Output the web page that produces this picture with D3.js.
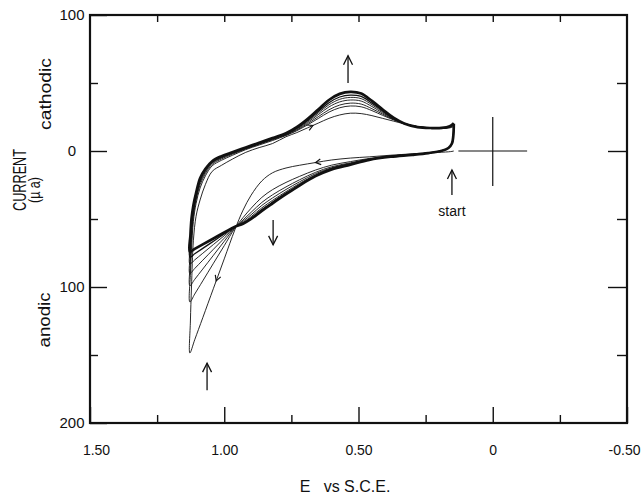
<!DOCTYPE html>
<html><head><meta charset="utf-8">
<script src="https://cdn.jsdelivr.net/npm/d3@7"></script>
<style>
body{margin:0;background:#fff}
text{font-family:"Liberation Sans",Arial,sans-serif;fill:#111}
</style>
</head><body>
<svg id="chart" width="641" height="497"></svg>
<script>
// ---------------- DATA ----------------
// potentials (V vs S.C.E.) of the anodic (lower) branch, swept from 0.15 V toward 1.13 V
const anodicE = [0.145, 0.147, 0.152, 0.165, 0.19, 0.24, 0.30, 0.38, 0.46, 0.53, 0.60, 0.66, 0.72, 0.77, 0.82, 0.86, 0.90, 0.93, 0.96, 1.00, 1.04, 1.08, 1.11, 1.128];
// potentials of the cathodic (upper) branch, swept back from 1.13 V to 0.15 V
const cathodicE = [1.128, 1.126, 1.122, 1.115, 1.105, 1.09, 1.07, 1.045, 1.01, 0.97, 0.92, 0.87, 0.82, 0.77, 0.73, 0.69, 0.65, 0.61, 0.57, 0.53, 0.49, 0.45, 0.41, 0.37, 0.33, 0.28, 0.23, 0.19, 0.16, 0.145];

// current (µA, cathodic positive) for successive cycles, first to last
const anodicCycle1 = [0, -0.1, -0.3, -0.6, -0.9, -1.4, -2.1, -3.1, -4.3, -5.2, -6.6, -8.5, -10.5, -12.5, -16, -22, -32.5, -43.5, -57.7, -79.3, -100.9, -122.6, -138.8, -148.5];
const anodicCycle2 = [18, 11, 5.5, 2.2, 0.2, -1.5, -2.4, -3.6, -5.5, -7.8, -10.4, -14, -18.7, -23.1, -28.4, -34.1, -42.1, -49, -56.6, -69.6, -82.5, -95.5, -105.2, -111];
const anodicCycle3 = [18.9, 11, 5.5, 2.2, 0.2, -1.5, -2.5, -3.8, -5.9, -8.7, -11.6, -15.7, -21.2, -26.4, -32.2, -37.8, -45.1, -50.7, -56.3, -66.4, -76.6, -86.8, -94.4, -99];
const anodicCycle4 = [19.2, 11, 5.5, 2.2, 0.2, -1.5, -2.6, -3.9, -6.1, -9.1, -12.3, -16.7, -22.7, -28.3, -34.5, -40, -46.9, -51.7, -56, -64.1, -72.2, -80.3, -86.4, -90];
const anodicCycle5 = [19.6, 11, 5.5, 2.2, 0.2, -1.5, -2.7, -4.0, -6.3, -9.5, -12.8, -17.5, -23.9, -29.9, -36.3, -41.8, -48.3, -52.5, -55.8, -62.3, -68.7, -75.2, -80.1, -83];
const anodicCycle6 = [19.9, 11, 5.5, 2.2, 0.2, -1.5, -2.7, -4.1, -6.4, -9.8, -13.2, -18.1, -24.8, -31, -37.6, -43.1, -49.3, -53.1, -55.7, -61, -66.3, -71.6, -75.6, -78];
const anodicCycle7 = [20.1, 11, 5.5, 2.2, 0.2, -1.5, -2.8, -4.2, -6.5, -10, -13.5, -18.5, -25.4, -31.8, -38.5, -44, -50, -53.5, -55.6, -59.9, -64.3, -68.7, -72, -74];

const cathodicCycle1 = [-148.5, -125, -100, -66, -48, -36, -24.5, -15, -10.5, -6, -1, 2.5, 5.5, 10.5, 13.5, 17, 20.5, 24, 26.5, 27.8, 27.5, 26, 24, 22, 20, 18, 17, 16.5, 17, 18];
const cathodicCycle2 = [-111, -90.4, -72.5, -51.7, -38.7, -27.2, -18.2, -10.9, -6.8, -3.2, 1, 4.4, 7.7, 11.4, 14.9, 19.2, 23.9, 28.6, 31.8, 33.1, 32.5, 29.7, 26.2, 22.9, 20.1, 17.9, 17, 16.7, 17.4, 18.9];
const cathodicCycle3 = [-99, -80.9, -65, -47.8, -36.1, -24.8, -16.5, -9.8, -5.8, -2.4, 1.5, 5, 8.3, 11.7, 15.4, 20.1, 25.2, 30.3, 33.8, 35.2, 34.5, 31.1, 27.1, 23.2, 20.1, 17.8, 17, 16.7, 17.6, 19.2];
const cathodicCycle4 = [-90, -74.6, -60, -45.2, -34.4, -23.2, -15.3, -9, -5.1, -1.9, 1.9, 5.3, 8.7, 12.1, 16, 21, 26.7, 32.4, 36.1, 37.5, 36.7, 32.7, 28, 23.6, 20.2, 17.8, 16.9, 16.8, 17.8, 19.6];
const cathodicCycle5 = [-83, -69.6, -56, -43.1, -33, -21.9, -14.4, -8.4, -4.6, -1.5, 2.2, 5.6, 9, 12.4, 16.5, 21.8, 27.9, 34, 38, 39.4, 38.5, 34, 28.8, 23.9, 20.2, 17.7, 16.9, 16.9, 18, 19.9];
const cathodicCycle6 = [-78, -65.2, -52.5, -41.3, -31.9, -20.8, -13.6, -7.9, -4.1, -1.2, 2.4, 5.8, 9.3, 12.6, 16.9, 22.5, 29, 35.5, 39.7, 41.1, 40.1, 35.2, 29.5, 24.1, 20.3, 17.7, 16.9, 16.9, 18.1, 20.1];
const cathodicCycle7 = [-74, -62, -50, -40, -31, -20, -13, -7.5, -3.8, -0.9, 2.6, 6, 9.5, 13, 17.5, 23.5, 30.5, 37.5, 42, 43.5, 42.3, 36.8, 30.5, 24.5, 20.3, 17.6, 16.9, 17, 18.3, 20.5];

// axis ticks
const xMajorTicks = [1.5, 1.0, 0.5, 0, -0.5];
const xTickLabels = ["1.50", "1.00", "0.50", "0", "-0.50"];
const xMinorTicks = [1.25, 0.75, 0.25, -0.25];
const yMajorTicks = [100, 0, -100, -200];
const yTickLabels = ["100", "0", "100", "200"];
const yMinorTicks = [50, -50, -150];

// ---------------- CHART ----------------
const anodicSeries = [anodicCycle1, anodicCycle2, anodicCycle3, anodicCycle4, anodicCycle5, anodicCycle6, anodicCycle7];
const cathodicSeries = [cathodicCycle1, cathodicCycle2, cathodicCycle3, cathodicCycle4, cathodicCycle5, cathodicCycle6, cathodicCycle7];

const L = 90, R = 627, T = 15, B = 423;
const svg = d3.select("#chart");
const x = d3.scaleLinear().domain([1.5, -0.5]).range([L, R]);
const y = d3.scaleLinear().domain([100, -200]).range([T, B]);
const ink = "#111";
const FONT = '"Liberation Sans", Arial, sans-serif';

// frame
svg.append("rect").attr("x", L).attr("y", T).attr("width", R - L).attr("height", B - T)
  .attr("fill", "none").attr("stroke", ink).attr("stroke-width", 2.2);

function styleAxis(g) {
  g.select(".domain").remove();
  g.selectAll("line").attr("stroke", ink).attr("stroke-width", 1.4);
}
// bottom axis
svg.append("g").attr("transform", `translate(0,${B})`)
  .call(d3.axisBottom(x).tickValues(xMajorTicks).tickSizeInner(-16).tickSizeOuter(0).tickPadding(22)
    .tickFormat((d, i) => xTickLabels[i]))
  .call(styleAxis)
  .call(g => g.selectAll("text").attr("font-size", 14).attr("fill", ink).attr("font-family", FONT)
    .attr("text-anchor", (d, i) => i === xMajorTicks.length - 1 ? "end" : "middle")
    .attr("dx", (d, i) => i === 0 ? 6 : (i === xMajorTicks.length - 1 ? 13 : 0)));
svg.append("g").attr("transform", `translate(0,${B})`)
  .call(d3.axisBottom(x).tickValues(xMinorTicks).tickSizeInner(-8).tickSizeOuter(0).tickFormat(""))
  .call(styleAxis);
// top axis (ticks only)
svg.append("g").attr("transform", `translate(0,${T})`)
  .call(d3.axisTop(x).tickValues(xMinorTicks.concat(xMajorTicks.slice(1, 4))).tickSizeInner(-7).tickSizeOuter(0).tickFormat(""))
  .call(styleAxis);
// left axis
svg.append("g").attr("transform", `translate(${L},0)`)
  .call(d3.axisLeft(y).tickValues(yMajorTicks).tickSizeInner(-17).tickSizeOuter(0).tickPadding(18)
    .tickFormat((d, i) => yTickLabels[i]))
  .call(styleAxis)
  .call(g => g.selectAll("text").attr("font-size", 15).attr("fill", ink).attr("text-anchor", "middle")
    .attr("font-family", FONT));
svg.append("g").attr("transform", `translate(${L},0)`)
  .call(d3.axisLeft(y).tickValues(yMinorTicks).tickSizeInner(-8).tickSizeOuter(0).tickFormat(""))
  .call(styleAxis);
// right axis (ticks only)
svg.append("g").attr("transform", `translate(${R},0)`)
  .call(d3.axisRight(y).tickValues(yMajorTicks.slice(1, 3)).tickSizeInner(-19).tickSizeOuter(0).tickFormat(""))
  .call(styleAxis);
svg.append("g").attr("transform", `translate(${R},0)`)
  .call(d3.axisRight(y).tickValues(yMinorTicks).tickSizeInner(-10).tickSizeOuter(0).tickFormat(""))
  .call(styleAxis);

// curves
const line = d3.line().x(d => x(d[0])).y(d => y(d[1])).curve(d3.curveCatmullRom.alpha(0.5));
const cycles = anodicSeries.map((a, k) =>
  anodicE.map((e, i) => [e, a[i]]).concat(cathodicE.slice(1).map((e, i) => [e, cathodicSeries[k][i + 1]])));
const nC = cycles.length;
svg.append("g").selectAll("path").data(cycles).join("path")
  .attr("d", line).attr("fill", "none").attr("stroke", ink)
  .attr("stroke-linejoin", "round")
  .attr("stroke-width", (d, k) => k === nC - 1 ? 2.7 : (k === nC - 2 ? 1.3 : 0.9));

// small direction chevrons on first cycle
function chevron(E0, I0, E1, I1) {
  const x0 = x(E0), y0 = y(I0), x1 = x(E1), y1 = y(I1);
  const ang = Math.atan2(y1 - y0, x1 - x0);
  const cx = (x0 + x1) / 2, cy = (y0 + y1) / 2, len = 6, sp = 0.5;
  const p = [[cx - len * Math.cos(ang - sp), cy - len * Math.sin(ang - sp)], [cx, cy],
             [cx - len * Math.cos(ang + sp), cy - len * Math.sin(ang + sp)]];
  svg.append("path").attr("d", d3.line()(p)).attr("fill", "none").attr("stroke", ink).attr("stroke-width", 1.2);
}
chevron(0.69, 17, 0.65, 20.5);
chevron(0.60, -6.6, 0.72, -10.5);
chevron(1.00, -79.3, 1.06, -111.7);

// annotation arrows (tail current -> tip current at fixed potential)
function vArrow(E, Itail, Itip) {
  const xx = x(E), y0 = y(Itail), y1 = y(Itip);
  const dir = Math.sign(y1 - y0);
  svg.append("line").attr("x1", xx).attr("x2", xx).attr("y1", y0).attr("y2", y1)
    .attr("stroke", ink).attr("stroke-width", 1.3);
  svg.append("path").attr("d", d3.line()([[xx - 4.5, y1 - dir * 9], [xx, y1], [xx + 4.5, y1 - dir * 9]]))
    .attr("fill", "none").attr("stroke", ink).attr("stroke-width", 1.3);
}
vArrow(0.539, 50, 70);
vArrow(0.818, -50.7, -69);
vArrow(1.064, -176, -156);
vArrow(0.152, -32.4, -14);

// origin cross-hair
svg.append("line").attr("x1", x(0.128)).attr("x2", x(-0.128)).attr("y1", y(0)).attr("y2", y(0))
  .attr("stroke", ink).attr("stroke-width", 1.2);
svg.append("line").attr("x1", x(0)).attr("x2", x(0)).attr("y1", y(25)).attr("y2", y(-25.7))
  .attr("stroke", ink).attr("stroke-width", 1.2);

// texts
svg.append("text").attr("x", x(0.152)).attr("y", 216).attr("text-anchor", "middle")
  .attr("font-size", 14).text("start");

function vText(txt, cx, cy, size, len) {
  const t = svg.append("text").attr("transform", `translate(${cx},${cy}) rotate(-90)`)
    .attr("text-anchor", "middle").attr("dominant-baseline", "central")
    .attr("font-size", size).text(txt);
  if (len) t.attr("textLength", len).attr("lengthAdjust", "spacingAndGlyphs");
}
vText("cathodic", 45, 94, 16, 72);
vText("CURRENT", 19, 180, 19, 62);
vText("(\u00b5 a)", 34, 190, 16, 26);
vText("anodic", 44, 320, 16, 55);

svg.append("text").attr("x", 345).attr("y", 492).attr("text-anchor", "middle")
  .attr("font-size", 16).style("white-space", "pre").text("E   vs S.C.E.");
</script>
</body></html>
